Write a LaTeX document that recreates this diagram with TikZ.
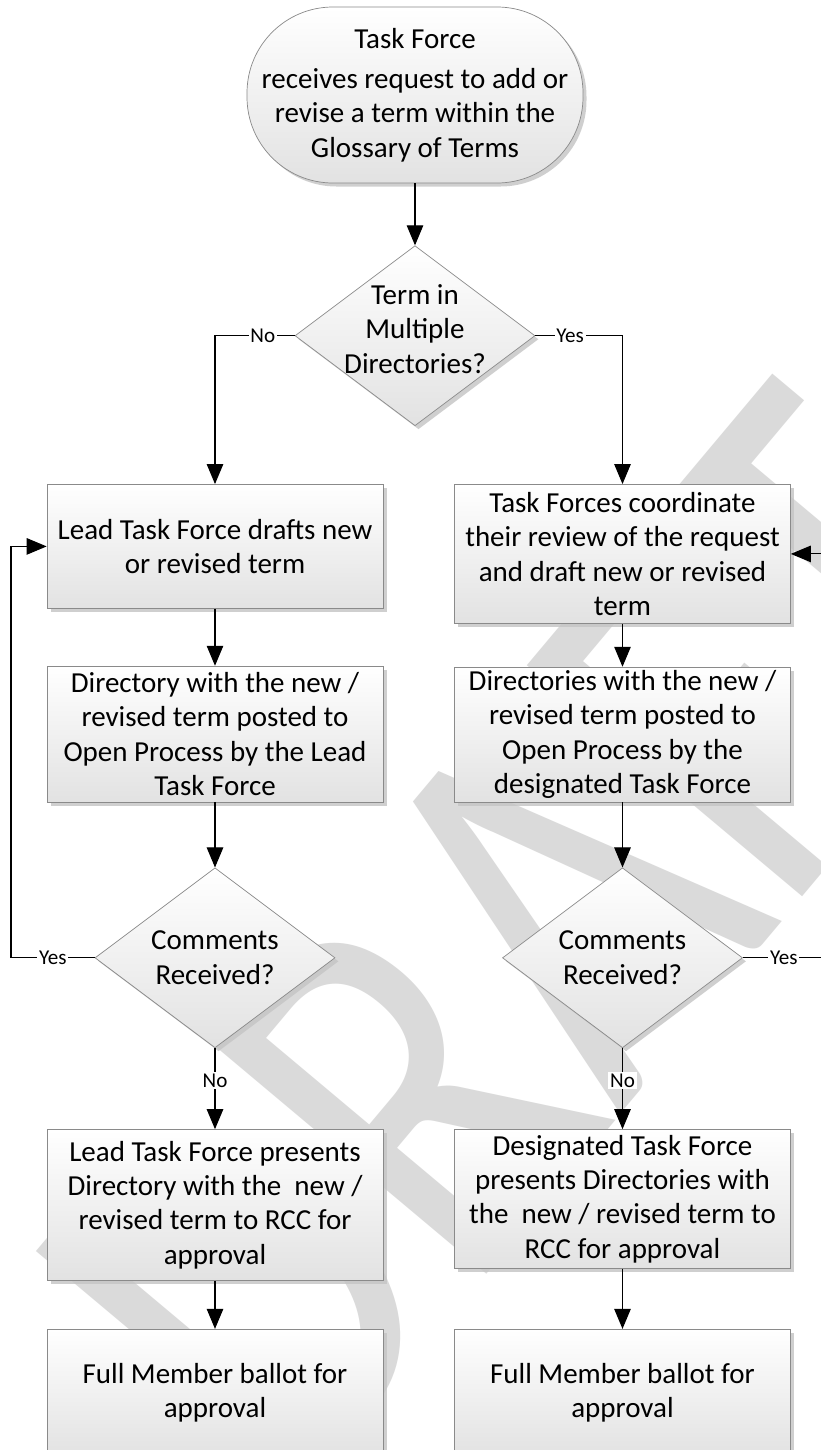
\documentclass[tikz,border=0pt]{standalone}
\usepackage{fontspec}
\setmainfont{Carlito}
\usetikzlibrary{arrows.meta,positioning,shapes.geometric,shadows}
\definecolor{BoxLine}{HTML}{8A8A8A}
\definecolor{BoxFill}{HTML}{E2E2E2}
\definecolor{ShadeGray}{HTML}{C4C4C4}
\definecolor{MarkGray}{HTML}{DADADA}

\begin{document}
\begin{tikzpicture}[
    font=\fontsize{16.5}{19.6}\selectfont,
    boxshade/.style={drop shadow={shadow xshift=0.07cm, shadow yshift=-0.07cm, fill=ShadeGray, opacity=0.8}},
    termbox/.style={draw=BoxLine, rounded corners=1.72cm, align=center, minimum width=6.72cm, minimum height=3.52cm, inner sep=1pt, top color=white, bottom color=BoxFill, boxshade},
    stepbox/.style={draw=BoxLine, align=center, minimum width=6.72cm, inner sep=1pt, top color=white, bottom color=BoxFill, boxshade},
    decbox/.style={diamond, draw=BoxLine, minimum width=4.8cm, minimum height=3.6cm, inner sep=0pt, top color=white, bottom color=BoxFill, boxshade},
    dectext/.style={align=center},
    yesno/.style={fill=white, inner sep=1pt, font=\fontsize{12}{14}\selectfont},
    arr/.style={-{Triangle[length=4mm, width=3.3mm]}, line width=0.6pt, draw=black}
]
\useasboundingbox (0,0) rectangle (16.42,-29);
\clip (0,0) rectangle (16.42,-29);
\fill[white] (0,0) rectangle (16.42,-29);

% watermark behind the chart
\begin{scope}[shift={(5.84,-30.12)}, rotate=50, xscale=0.786]
\node[transform shape, anchor=base west, inner sep=0pt, text=MarkGray, font=\fontsize{318.8}{318.8}\selectfont] (wmark) at (0,0) {DRAFT};
\end{scope}

\node[termbox] (start) at (8.3,-1.9) {Task Force\\[0.12cm]receives request to add or\\revise a term within the\\Glossary of Terms};
\node[decbox, below=1.24cm of start, label={[dectext, yshift=0.14cm]center:Term in\\Multiple\\Directories?}] (dec1) {};

% left branch
\node[stepbox, minimum height=2.48cm, below=1.16cm of dec1, xshift=-4cm] (lb1) {Lead Task Force drafts new\\or revised term};
\node[stepbox, minimum height=2.72cm, below=1.14cm of lb1] (lb2) {Directory with the new /\\revised term posted to\\Open Process by the Lead\\Task Force};
\node[decbox, below=1.3cm of lb2, label={[dectext]center:Comments\\Received?}] (ldec) {};
\node[stepbox, minimum height=3.02cm, below=1.62cm of ldec] (lb3) {Lead Task Force presents\\Directory with the\ \ new /\\revised term to RCC for\\approval};
\node[stepbox, minimum height=2.54cm, below=0.96cm of lb3] (lb4) {Full Member ballot for\\approval};

% right branch
\node[stepbox, minimum height=2.78cm, below=1.16cm of dec1, xshift=4.15cm] (rb1) {Task Forces coordinate\\their review of the request\\and draft new or revised\\term};
\node[stepbox, minimum height=2.7cm, below=0.86cm of rb1] (rb2) {Directories with the new /\\revised term posted to\\Open Process by the\\designated Task Force};
\node[decbox, below=1.3cm of rb2, label={[dectext]center:Comments\\Received?}] (rdec) {};
\node[stepbox, minimum height=2.78cm, below=1.62cm of rdec] (rb3) {Designated Task Force\\presents Directories with\\the\ \ new / revised term to\\RCC for approval};
\node[stepbox, minimum height=2.54cm, below=1.2cm of rb3] (rb4) {Full Member ballot for\\approval};

\coordinate (lrail) at (0.22,-19.1);
\coordinate (rrail) at (16.5,-19.1);

\draw[arr] (start) -- (dec1);
\draw[arr] (dec1.west) -| node[yesno, pos=0.2] {No} (lb1.north);
\draw[arr] (dec1.east) -| node[yesno, pos=0.2] {Yes} (rb1.north);
\draw[arr] (lb1) -- (lb2);
\draw[arr] (rb1) -- (rb2);
\draw[arr] (lb2) -- (ldec);
\draw[arr] (rb2) -- (rdec);
\draw[arr] (ldec) -- node[yesno, pos=0.4] {No} (lb3);
\draw[arr] (rdec) -- node[yesno, pos=0.4] {No} (rb3);
\draw[arr] (lb3) -- (lb4);
\draw[arr] (rb3) -- (rb4);
\draw[arr] (ldec.west) -- node[yesno] {Yes} (ldec.west -| lrail) |- (lb1.west);
\draw[arr] (rdec.east) -- node[yesno] {Yes} (rdec.east -| rrail) |- (rb1.east);
\end{tikzpicture}
\end{document}
